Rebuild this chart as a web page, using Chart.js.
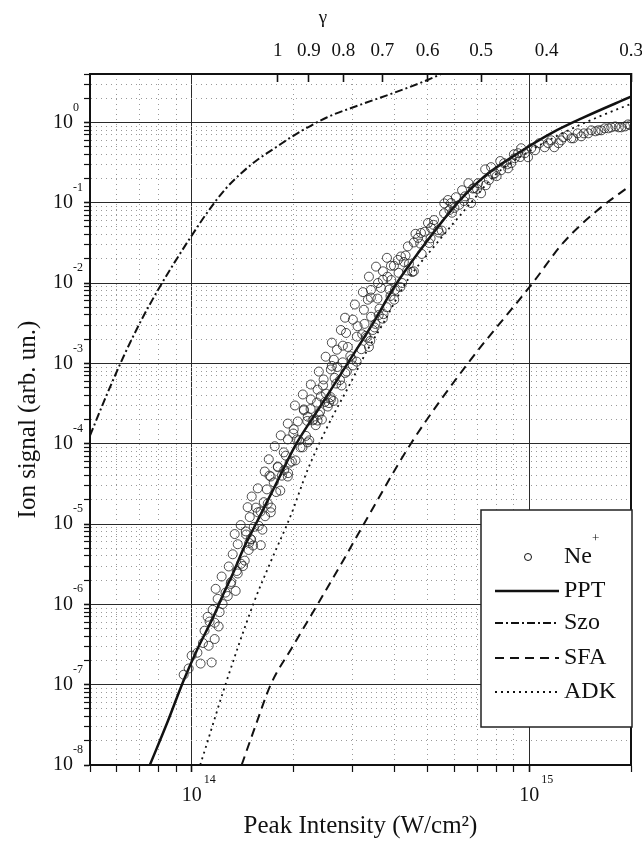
<!DOCTYPE html>
<html>
<head>
<meta charset="utf-8">
<script src="https://cdn.jsdelivr.net/npm/chart.js"></script>
<style>
  html, body { margin: 0; padding: 0; background: #fff; }
  canvas { display: block; }
</style>
</head>
<body>
<canvas id="myChart" width="642" height="847"></canvas>
<script>
// Ne+ measured ion yield (W/cm2, arb. un.)
const neIntensity = [
  0.947e14, 0.980e14, 1.063e14, 1.146e14, 1.123e14, 1.170e14, 1.092e14, 1.202e14, 1.115e14, 1.154e14,
  1.235e14, 1.194e14, 1.279e14, 1.350e14, 1.178e14, 1.305e14, 1.227e14, 1.369e14, 1.288e14, 1.436e14,
  1.323e14, 1.475e14, 1.369e14, 1.496e14, 1.341e14, 1.446e14, 1.527e14, 1.397e14, 1.602e14, 1.486e14,
  1.570e14, 1.465e14, 1.635e14, 1.506e14, 1.670e14, 1.570e14, 1.715e14, 1.646e14, 1.799e14, 1.692e14,
  1.874e14, 1.762e14, 1.926e14, 1.836e14, 2.006e14, 2.062e14, 1.926e14, 2.148e14, 2.207e14, 2.022e14,
  2.254e14, 2.134e14, 2.360e14, 2.459e14, 2.413e14, 2.254e14, 2.584e14, 2.380e14, 2.637e14, 2.494e14,
  2.692e14, 2.804e14, 2.601e14, 2.866e14, 2.766e14, 3.002e14, 3.085e14, 2.846e14, 3.236e14, 3.043e14,
  3.325e14, 3.395e14, 3.214e14, 3.563e14, 3.349e14, 3.684e14, 3.515e14, 3.892e14, 4.080e14, 3.787e14,
  2.584e14, 2.360e14, 2.207e14, 1.926e14, 1.715e14, 3.349e14, 3.441e14,
  3.395e14, 3.684e14, 3.972e14, 4.167e14, 4.368e14, 4.550e14, 4.777e14, 5.010e14, 5.220e14, 5.370e14,
  5.590e14, 5.863e14, 5.740e14, 6.060e14, 6.320e14, 6.721e14, 7.050e14, 7.196e14, 7.590e14, 7.910e14,
  7.705e14, 8.250e14, 8.420e14, 8.833e14, 9.260e14, 9.457e14, 9.910e14, 1.040e15, 1.070e15, 1.110e15,
  1.161e15, 1.220e15, 1.260e15, 1.331e15, 1.390e15, 1.450e15, 1.526e15, 1.600e15, 1.670e15, 1.749e15,
  1.840e15, 1.920e15, 1.990e15,
  3.635e14, 4.250e14, 4.680e14, 5.115e14, 6.000e14, 6.450e14, 6.860e14, 7.430e14, 8.000e14, 8.650e14,
  9.050e14, 9.700e14, 1.013e15, 1.137e15, 1.185e15, 1.243e15, 1.297e15, 1.350e15, 1.425e15, 1.495e15,
  1.570e15, 1.633e15, 1.714e15, 1.797e15, 1.872e15, 1.960e15,
  1.45e14, 1.50e14, 1.55e14, 1.60e14, 1.65e14, 1.70e14, 1.75e14, 1.80e14, 1.85e14, 1.90e14,
  1.95e14, 2.00e14, 2.05e14, 2.10e14, 2.15e14, 2.20e14, 2.25e14, 2.30e14, 2.35e14, 2.40e14,
  2.45e14, 2.50e14, 2.55e14, 2.60e14, 2.65e14, 2.70e14, 2.75e14, 2.80e14, 2.85e14, 2.90e14,
  2.95e14, 3.00e14, 3.10e14, 3.20e14, 3.25e14, 3.30e14, 3.40e14, 3.50e14, 3.55e14, 3.60e14,
  3.70e14, 3.80e14, 3.85e14, 3.90e14, 4.00e14, 4.10e14, 4.20e14, 4.30e14, 4.40e14, 4.50e14,
  4.60e14, 4.75e14, 4.90e14, 5.05e14, 5.20e14, 5.40e14, 5.60e14, 5.80e14, 6.20e14, 6.60e14,
  7.00e14, 7.40e14, 7.80e14, 8.20e14, 8.60e14, 9.00e14, 9.40e14,
  1.42e14, 1.48e14, 1.52e14, 1.58e14, 1.62e14, 1.68e14, 1.72e14, 1.78e14, 1.83e14, 1.88e14,
  1.93e14, 1.98e14, 2.03e14, 2.08e14, 2.13e14, 2.18e14, 2.23e14, 2.28e14, 2.33e14, 2.38e14,
  2.43e14, 2.48e14, 2.53e14, 2.58e14, 2.63e14, 2.68e14, 2.78e14, 2.88e14, 2.98e14, 3.08e14,
  3.18e14, 3.28e14, 3.38e14, 3.48e14, 3.58e14, 3.68e14, 3.78e14, 3.88e14, 3.98e14, 4.15e14,
  4.35e14, 4.55e14, 4.80e14, 5.10e14, 5.50e14, 5.90e14, 6.40e14, 6.80e14,
  1.00e14, 1.04e14, 1.08e14, 1.13e14, 1.17e14, 1.21e14, 1.26e14, 1.31e14, 1.36e14, 1.40e14
];
const neSignal = [
  1.33e-7, 1.59e-7, 1.83e-7, 1.89e-7, 3.05e-7, 3.7e-7, 4.7e-7, 5.3e-7, 7.0e-7, 8.55e-7,
  1.01e-6, 1.17e-6, 1.27e-6, 1.47e-6, 1.56e-6, 1.80e-6, 2.22e-6, 2.42e-6, 2.96e-6, 3.5e-6,
  4.2e-6, 4.75e-6, 5.6e-6, 6.5e-6, 7.5e-6, 8.1e-6, 9.2e-6, 9.7e-6, 5.45e-6, 1.22e-5,
  1.4e-5, 1.62e-5, 1.87e-5, 2.2e-5, 2.7e-5, 2.78e-5, 3.9e-5, 4.5e-5, 5.2e-5, 6.4e-5,
  7.8e-5, 9.3e-5, 1.13e-4, 1.27e-4, 1.51e-4, 1.89e-4, 1.78e-4, 2.67e-4, 2.17e-4, 2.99e-4,
  3.56e-4, 4.1e-4, 4.7e-4, 6.3e-4, 3.88e-4, 5.45e-4, 8.4e-4, 7.9e-4, 1.11e-3, 1.21e-3,
  1.48e-3, 1.66e-3, 1.81e-3, 2.39e-3, 2.6e-3, 3.5e-3, 2.15e-3, 3.7e-3, 4.65e-3, 5.4e-3,
  6.2e-3, 8.2e-3, 7.7e-3, 1.0e-2, 1.2e-2, 1.4e-2, 1.6e-2, 1.64e-2, 1.94e-2, 2.06e-2,
  3.56e-4, 1.94e-4, 1.04e-4, 3.9e-5, 1.4e-5, 1.6e-3, 2.6e-3,
  6.6e-3, 1.1e-2, 1.64e-2, 2.14e-2, 2.86e-2, 3.2e-2, 4.2e-2, 5.6e-2, 6.08e-2, 4.57e-2,
  7.4e-2, 9.9e-2, 0.108, 0.117, 0.143, 9.9e-2, 0.175, 0.131, 0.191, 0.233,
  0.277, 0.254, 0.31, 0.31, 0.413, 0.476, 0.368, 0.45, 0.55, 0.49,
  0.598, 0.55, 0.652, 0.633, 0.73, 0.73, 0.796, 0.796, 0.843, 0.867,
  0.867, 0.89, 0.92,
  8.7e-3, 1.83e-2, 3.64e-2, 4.84e-2, 8.6e-2, 0.12, 0.152, 0.165, 0.214, 0.268,
  0.358, 0.413, 0.476, 0.55, 0.49, 0.598, 0.69, 0.633, 0.67, 0.73,
  0.774, 0.796, 0.843, 0.89, 0.867, 0.943,
  7.4e-6, 6.4e-6, 1.6e-5, 1.43e-5, 1.25e-5, 4.0e-5, 3.3e-5, 5.1e-5, 4.0e-5, 7.1e-5,
  5.8e-5, 1.34e-4, 1.13e-4, 9.0e-5, 2.6e-4, 1.92e-4, 2.7e-4, 2.0e-4, 3.25e-4, 2.5e-4,
  5.3e-4, 4.2e-4, 3.2e-4, 9.3e-4, 6.6e-4, 9.0e-4, 6.2e-4, 1.03e-3, 7.6e-4, 1.6e-3,
  1.23e-3, 9.4e-4, 2.9e-3, 2.3e-3, 3.1e-3, 2.1e-3, 3.8e-3, 3.1e-3, 6.4e-3, 4.8e-3,
  4.1e-3, 1.2e-2, 8.3e-3, 1.09e-2, 8.2e-3, 1.34e-2, 1.0e-2, 2.2e-2, 1.74e-2, 1.37e-2,
  4.1e-2, 3.1e-2, 4.35e-2, 3.15e-2, 5.3e-2, 4.25e-2, 9.8e-2, 8.1e-2, 9.4e-2, 0.175,
  0.148, 0.26, 0.225, 0.33, 0.30, 0.40, 0.37,
  3.0e-6, 5.8e-6, 5.4e-6, 9.5e-6, 8.5e-6, 1.8e-5, 1.6e-5, 2.5e-5, 2.6e-5, 4.7e-5,
  4.3e-5, 6.0e-5, 6.2e-5, 1.1e-4, 9.0e-5, 1.25e-4, 1.1e-4, 1.95e-4, 1.7e-4, 2.3e-4,
  2.0e-4, 3.3e-4, 2.9e-4, 3.8e-4, 3.4e-4, 5.6e-4, 5.3e-4, 7.9e-4, 1.13e-3, 1.05e-3,
  1.5e-3, 2.2e-3, 1.9e-3, 2.8e-3, 4.0e-3, 3.6e-3, 5.0e-3, 6.9e-3, 6.2e-3, 8.9e-3,
  1.43e-2, 1.4e-2, 2.3e-2, 3.6e-2, 4.5e-2, 7.5e-2, 0.105, 0.15,
  2.3e-7, 2.5e-7, 3.3e-7, 6.1e-7, 5.9e-7, 8.0e-7, 1.4e-6, 1.9e-6, 2.6e-6, 3.2e-6
];

// theory curves
const pptIntensity = [7.52e13, 8.51e13, 9.46e13, 1.042e14, 1.161e14, 1.245e14, 1.33e14, 1.426e14, 1.549e14, 1.778e14, 2.042e14,
  2.41e14, 2.897e14, 3.388e14, 3.981e14, 4.677e14, 6.138e14, 7.328e14, 9.247e14, 1.159e15, 1.449e15, 2.0e15];
const pptSignal = [1e-8, 3.55e-8, 1.12e-7, 2.82e-7, 7.08e-7, 1.38e-6, 2.51e-6, 5.01e-6, 1.0e-5, 3.16e-5, 1.0e-4,
  2.95e-4, 1.0e-3, 2.82e-3, 8.91e-3, 2.34e-2, 0.1, 0.209, 0.412, 0.731, 1.153, 2.09];

const szoIntensity = [5.0e13, 5.62e13, 6.31e13, 7.08e13, 7.94e13, 8.91e13, 1.0e14, 1.122e14, 1.259e14, 1.413e14,
  1.585e14, 1.778e14, 1.995e14, 2.512e14, 3.162e14, 3.981e14, 5.012e14, 5.47e14];
const szoSignal = [1.26e-4, 4.17e-4, 1.26e-3, 3.39e-3, 8.13e-3, 1.82e-2, 3.89e-2, 7.94e-2, 0.148, 0.24,
  0.355, 0.49, 0.676, 1.15, 1.66, 2.34, 3.39, 3.98];

const sfaIntensity = [1.406e14, 1.549e14, 1.714e14, 1.995e14, 2.36e14, 2.858e14, 3.236e14, 4.457e14, 6.577e14, 1.023e15,
  1.259e15, 1.585e15, 2.0e15];
const sfaSignal = [1e-8, 3.16e-8, 1e-7, 3.02e-7, 1e-6, 3.98e-6, 1e-5, 1e-4, 1e-3, 1e-2,
  3.16e-2, 7.94e-2, 0.166];

const adkIntensity = [1.06e14, 1.099e14, 1.259e14, 1.528e14, 1.714e14, 1.963e14, 2.208e14, 2.529e14, 2.958e14, 3.319e14,
  3.707e14, 4.074e14, 4.365e14, 5.212e14, 6.714e14, 7.943e14, 1.0e15, 1.259e15, 1.585e15, 2.0e15];
const adkSignal = [1e-8, 1.62e-8, 1e-7, 1.05e-6, 3.39e-6, 1.26e-5, 4.79e-5, 1.66e-4, 5.75e-4, 1.48e-3,
  3.24e-3, 6.76e-3, 1.1e-2, 2.82e-2, 0.1, 0.224, 0.437, 0.741, 1.148, 1.70];

// top axis: Keldysh parameter
const gammaTicks = [1, 0.9, 0.8, 0.7, 0.6, 0.5, 0.4, 0.3];
const gammaOneIntensity = 1.8e14;   // intensity where gamma = 1

const yDecades = [0, -1, -2, -3, -4, -5, -6, -7, -8];
const xDecades = [14, 15];

const serif = "'Liberation Serif', 'Times New Roman', serif";
const ink = '#111';

function pairs(xs, ys) {
  return xs.map((x, i) => ({ x: x, y: ys[i] }));
}
function isDecade(v) {
  const l = Math.log10(v);
  return Math.abs(l - Math.round(l)) < 1e-6;
}
function logTicks(min, max) {
  const out = [];
  for (let e = Math.floor(Math.log10(min)); e <= Math.ceil(Math.log10(max)); e++) {
    for (let m = 1; m <= 9; m++) {
      const v = m * Math.pow(10, e);
      if (v >= min * 0.999 && v <= max * 1.001) out.push({ value: v });
    }
  }
  return out;
}
const gridColor = ctx => (ctx.tick && !isDecade(ctx.tick.value)) ? '#9a9a9a' : '#2a2a2a';
const gridDash = ctx => (ctx.tick && !isDecade(ctx.tick.value)) ? [1, 4] : [];
const tickWidth = ctx => (ctx.tick && isDecade(ctx.tick.value)) ? 1.6 : 1.2;

// fixed axis boxes, no extra room for edge labels
function fitX(h) {
  return s => { s.height = h; s.paddingLeft = 0; s.paddingRight = 0; };
}
function fitY(w) {
  return s => { s.width = w; s.paddingTop = 0; s.paddingBottom = 0; };
}

const decorations = {
  id: 'decorations',
  afterDraw(chart) {
    const ctx = chart.ctx;
    const area = chart.chartArea;
    const xs = chart.scales.x;
    const ys = chart.scales.y;
    ctx.save();

    // frame
    ctx.strokeStyle = ink;
    ctx.lineWidth = 2;
    ctx.setLineDash([]);
    ctx.strokeRect(area.left, area.top, area.right - area.left, area.bottom - area.top);

    // exponents for the "10" labels
    ctx.fillStyle = ink;
    ctx.font = '12px ' + serif;
    ctx.textBaseline = 'middle';
    ctx.textAlign = 'left';
    yDecades.forEach(e => {
      const py = ys.getPixelForValue(Math.pow(10, e));
      ctx.fillText(String(e), ys.right - 17, py - 15);
    });
    xDecades.forEach(e => {
      const px = xs.getPixelForValue(Math.pow(10, e));
      ctx.fillText(String(e), px + 12, xs.top + 15);
    });

    // gamma title
    ctx.font = '19px ' + serif;
    ctx.textAlign = 'center';
    ctx.fillText('γ', area.left + 233, 18);

    // legend
    const bw = 151, bh = 217;
    const bx = area.right - bw + 1;
    const by = area.bottom - 38 - bh;
    ctx.fillStyle = '#fff';
    ctx.fillRect(bx, by, bw, bh);
    ctx.strokeStyle = '#222';
    ctx.lineWidth = 1.5;
    ctx.strokeRect(bx, by, bw, bh);
    const rows = [47, 81, 113, 148, 182];
    chart.data.datasets.forEach((ds, i) => {
      const cy = by + rows[i];
      ctx.strokeStyle = ink;
      if (ds.showLine === false) {
        ctx.lineWidth = 1;
        ctx.setLineDash([]);
        ctx.beginPath();
        ctx.arc(bx + 47, cy, 3.5, 0, Math.PI * 2);
        ctx.stroke();
      } else {
        ctx.lineWidth = ds.borderWidth;
        ctx.setLineDash(ds.borderDash || []);
        ctx.beginPath();
        ctx.moveTo(bx + 14, cy);
        ctx.lineTo(bx + 78, cy);
        ctx.stroke();
      }
      ctx.setLineDash([]);
      ctx.fillStyle = ink;
      ctx.font = '24px ' + serif;
      ctx.textAlign = 'left';
      ctx.textBaseline = 'middle';
      const label = ds.label.replace('+', '');
      ctx.fillText(label, bx + 83, cy);
      if (ds.label.endsWith('+')) {
        const w = ctx.measureText(label).width;
        ctx.font = '13px ' + serif;
        ctx.fillText('+', bx + 83 + w, cy - 18);
      }
    });
    ctx.restore();
  }
};

new Chart(document.getElementById('myChart'), {
  type: 'scatter',
  data: {
    datasets: [
      {
        label: 'Ne+',
        data: pairs(neIntensity, neSignal),
        showLine: false,
        pointStyle: 'circle',
        pointRadius: 4.5,
        pointBorderWidth: 0.8,
        pointBorderColor: '#222',
        pointBackgroundColor: 'rgba(255,255,255,0)'
      },
      {
        label: 'PPT',
        data: pairs(pptIntensity, pptSignal),
        showLine: true,
        borderColor: ink,
        borderWidth: 2.5,
        pointRadius: 0,
        cubicInterpolationMode: 'monotone'
      },
      {
        label: 'Szo',
        data: pairs(szoIntensity, szoSignal),
        showLine: true,
        borderColor: ink,
        borderWidth: 2,
        borderDash: [8, 3, 2, 3],
        pointRadius: 0,
        cubicInterpolationMode: 'monotone'
      },
      {
        label: 'SFA',
        data: pairs(sfaIntensity, sfaSignal),
        showLine: true,
        borderColor: ink,
        borderWidth: 2,
        borderDash: [9, 6],
        pointRadius: 0,
        cubicInterpolationMode: 'monotone'
      },
      {
        label: 'ADK',
        data: pairs(adkIntensity, adkSignal),
        showLine: true,
        borderColor: ink,
        borderWidth: 1.8,
        borderDash: [2, 4],
        pointRadius: 0,
        cubicInterpolationMode: 'monotone'
      }
    ]
  },
  options: {
    responsive: false,
    animation: false,
    devicePixelRatio: 1,
    layout: { padding: { top: 0, right: 11, bottom: 0, left: 0 } },
    plugins: {
      legend: { display: false },
      tooltip: { enabled: false }
    },
    scales: {
      x: {
        type: 'logarithmic',
        position: 'bottom',
        min: 5e13,
        max: 2e15,
        afterBuildTicks: s => { s.ticks = logTicks(5e13, 2e15); },
        afterFit: fitX(82),
        grid: { color: gridColor, lineWidth: 1, tickLength: 7, tickColor: ink, tickWidth: tickWidth },
        border: { display: true, color: ink, width: 2, dash: gridDash },
        ticks: {
          autoSkip: false, maxRotation: 0, padding: 12, color: ink,
          font: { family: serif, size: 20 },
          callback: v => isDecade(v) ? '10' : ''
        },
        title: {
          display: true, text: 'Peak Intensity (W/cm²)', color: ink,
          font: { family: serif, size: 25 }, padding: { top: 0, bottom: 6 }
        }
      },
      x2: {
        type: 'logarithmic',
        position: 'top',
        min: 5e13,
        max: 2e15,
        afterBuildTicks: s => { s.ticks = gammaTicks.map(g => ({ value: gammaOneIntensity / (g * g) })); },
        afterFit: fitX(74),
        grid: { drawOnChartArea: false, tickLength: -8, tickColor: ink, tickWidth: 1.6 },
        border: { display: true, color: ink, width: 2 },
        ticks: {
          autoSkip: false, maxRotation: 0, padding: 20, color: ink,
          font: { family: serif, size: 19 },
          callback: (v, i) => String(gammaTicks[i])
        }
      },
      y: {
        type: 'logarithmic',
        position: 'left',
        min: 1e-8,
        max: 4,
        afterBuildTicks: s => { s.ticks = logTicks(1e-8, 4); },
        afterFit: fitY(90),
        grid: { color: gridColor, lineWidth: 1, tickLength: 6, tickColor: ink, tickWidth: tickWidth },
        border: { display: true, color: ink, width: 2, dash: gridDash },
        ticks: {
          autoSkip: false, padding: 11, color: ink,
          font: { family: serif, size: 20 },
          callback: v => isDecade(v) ? '10' : ''
        },
        title: {
          display: true, text: 'Ion signal (arb. un.)', color: ink,
          font: { family: serif, size: 25 }, padding: { top: 13, bottom: 0 }
        }
      }
    }
  },
  plugins: [decorations]
});
</script>
</body>
</html>
